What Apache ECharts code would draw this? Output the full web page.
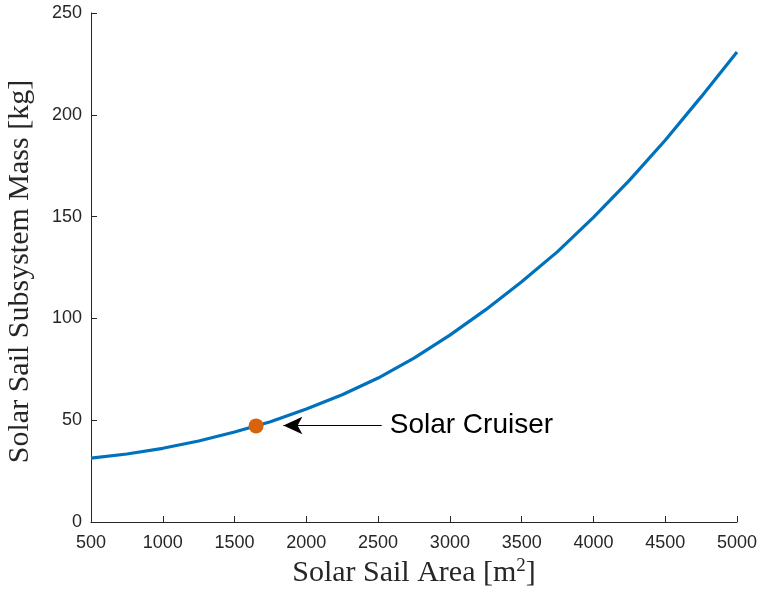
<!DOCTYPE html>
<html>
<head>
<meta charset="utf-8">
<script src="https://cdn.jsdelivr.net/npm/echarts@6/dist/echarts.min.js"></script>
<style>html,body{margin:0;padding:0;background:#fff}#c{width:759px;height:592px}</style>
</head>
<body>
<div id="c"></div>
<script>
// Solar sail area [m^2]
const areas = [500, 750, 1000, 1250, 1500, 1750, 2000, 2250, 2500, 2750, 3000, 3250, 3500, 3750, 4000, 4250, 4500, 4750, 5000];
// Subsystem mass [kg]
const masses = [31.4, 33.4, 36.2, 39.8, 44.2, 49.2, 55.5, 62.5, 70.7, 80.5, 91.8, 104.3, 118.0, 132.8, 149.6, 167.8, 187.5, 208.8, 230.8];
// Solar Cruiser point
const cruiserPoint = [1650, 47.2];
const cruiserLabel = 'Solar Cruiser';
// Annotation arrow: from tip to tail (data coords)
const arrowTip = [1840, 47.4];
const arrowTail = [2525, 47.4];

const xTicks = {min: 500, max: 5000, interval: 500};
const yTicks = {min: 0, max: 250, interval: 50};

const chart = echarts.init(document.getElementById('c'), null, {renderer: 'canvas'});
const axisColor = '#262626';
chart.setOption({
  animation: false,
  backgroundColor: '#fff',
  grid: {left: 91, right: 22, top: 13, bottom: 70, containLabel: false, outerBoundsMode: 'none'},
  xAxis: {
    type: 'value', min: xTicks.min, max: xTicks.max, interval: xTicks.interval,
    name: 'Solar Sail Area [m{sup|2}]',
    nameLocation: 'middle', nameGap: 32,
    nameTextStyle: {fontFamily: 'Liberation Serif', fontSize: 30, color: axisColor,
      rich: {sup: {fontFamily: 'Liberation Serif', fontSize: 19, color: axisColor, verticalAlign: 'top', padding: [0,0,14,0]}}},
    axisLine: {show: true, lineStyle: {color: axisColor, width: 1}},
    axisTick: {show: true, inside: true, length: 6, lineStyle: {color: axisColor}},
    axisLabel: {fontFamily: 'Liberation Sans', fontSize: 18, color: axisColor, margin: 12,
      formatter: v => String(v)},
    splitLine: {show: false}
  },
  yAxis: {
    type: 'value', min: yTicks.min, max: yTicks.max, interval: yTicks.interval,
    name: 'Solar Sail Subsystem Mass [kg]',
    nameLocation: 'middle', nameGap: 56, nameRotate: 90,
    nameTextStyle: {fontFamily: 'Liberation Serif', fontSize: 30, color: axisColor, padding: [0, 8, 0, 0]},
    axisLine: {show: true, lineStyle: {color: axisColor, width: 1}},
    axisTick: {show: true, inside: true, length: 6, lineStyle: {color: axisColor}},
    axisLabel: {fontFamily: 'Liberation Sans', fontSize: 18, color: axisColor, margin: 9,
      formatter: v => String(v)},
    splitLine: {show: false}
  },
  series: [
    {
      type: 'line',
      data: areas.map((a, i) => [a, masses[i]]),
      showSymbol: false,
      smooth: false,
      lineStyle: {color: '#0072BD', width: 3.2},
      itemStyle: {color: '#0072BD'},
      z: 2,
      markLine: {
        silent: true,
        symbol: ['arrow', 'none'],
        symbolSize: [13, 19],
        lineStyle: {color: '#000', width: 1, type: 'solid'},
        label: {show: true, position: 'end', formatter: cruiserLabel, distance: 8,
          fontFamily: 'Liberation Sans', fontSize: 28, color: '#000'},
        data: [[{coord: arrowTip}, {coord: arrowTail}]]
      }
    },
    {
      type: 'scatter',
      data: [cruiserPoint],
      symbol: 'circle',
      symbolSize: 15,
      itemStyle: {color: '#D86409', opacity: 1},
      z: 3
    }
  ]
});
</script>
</body>
</html>
